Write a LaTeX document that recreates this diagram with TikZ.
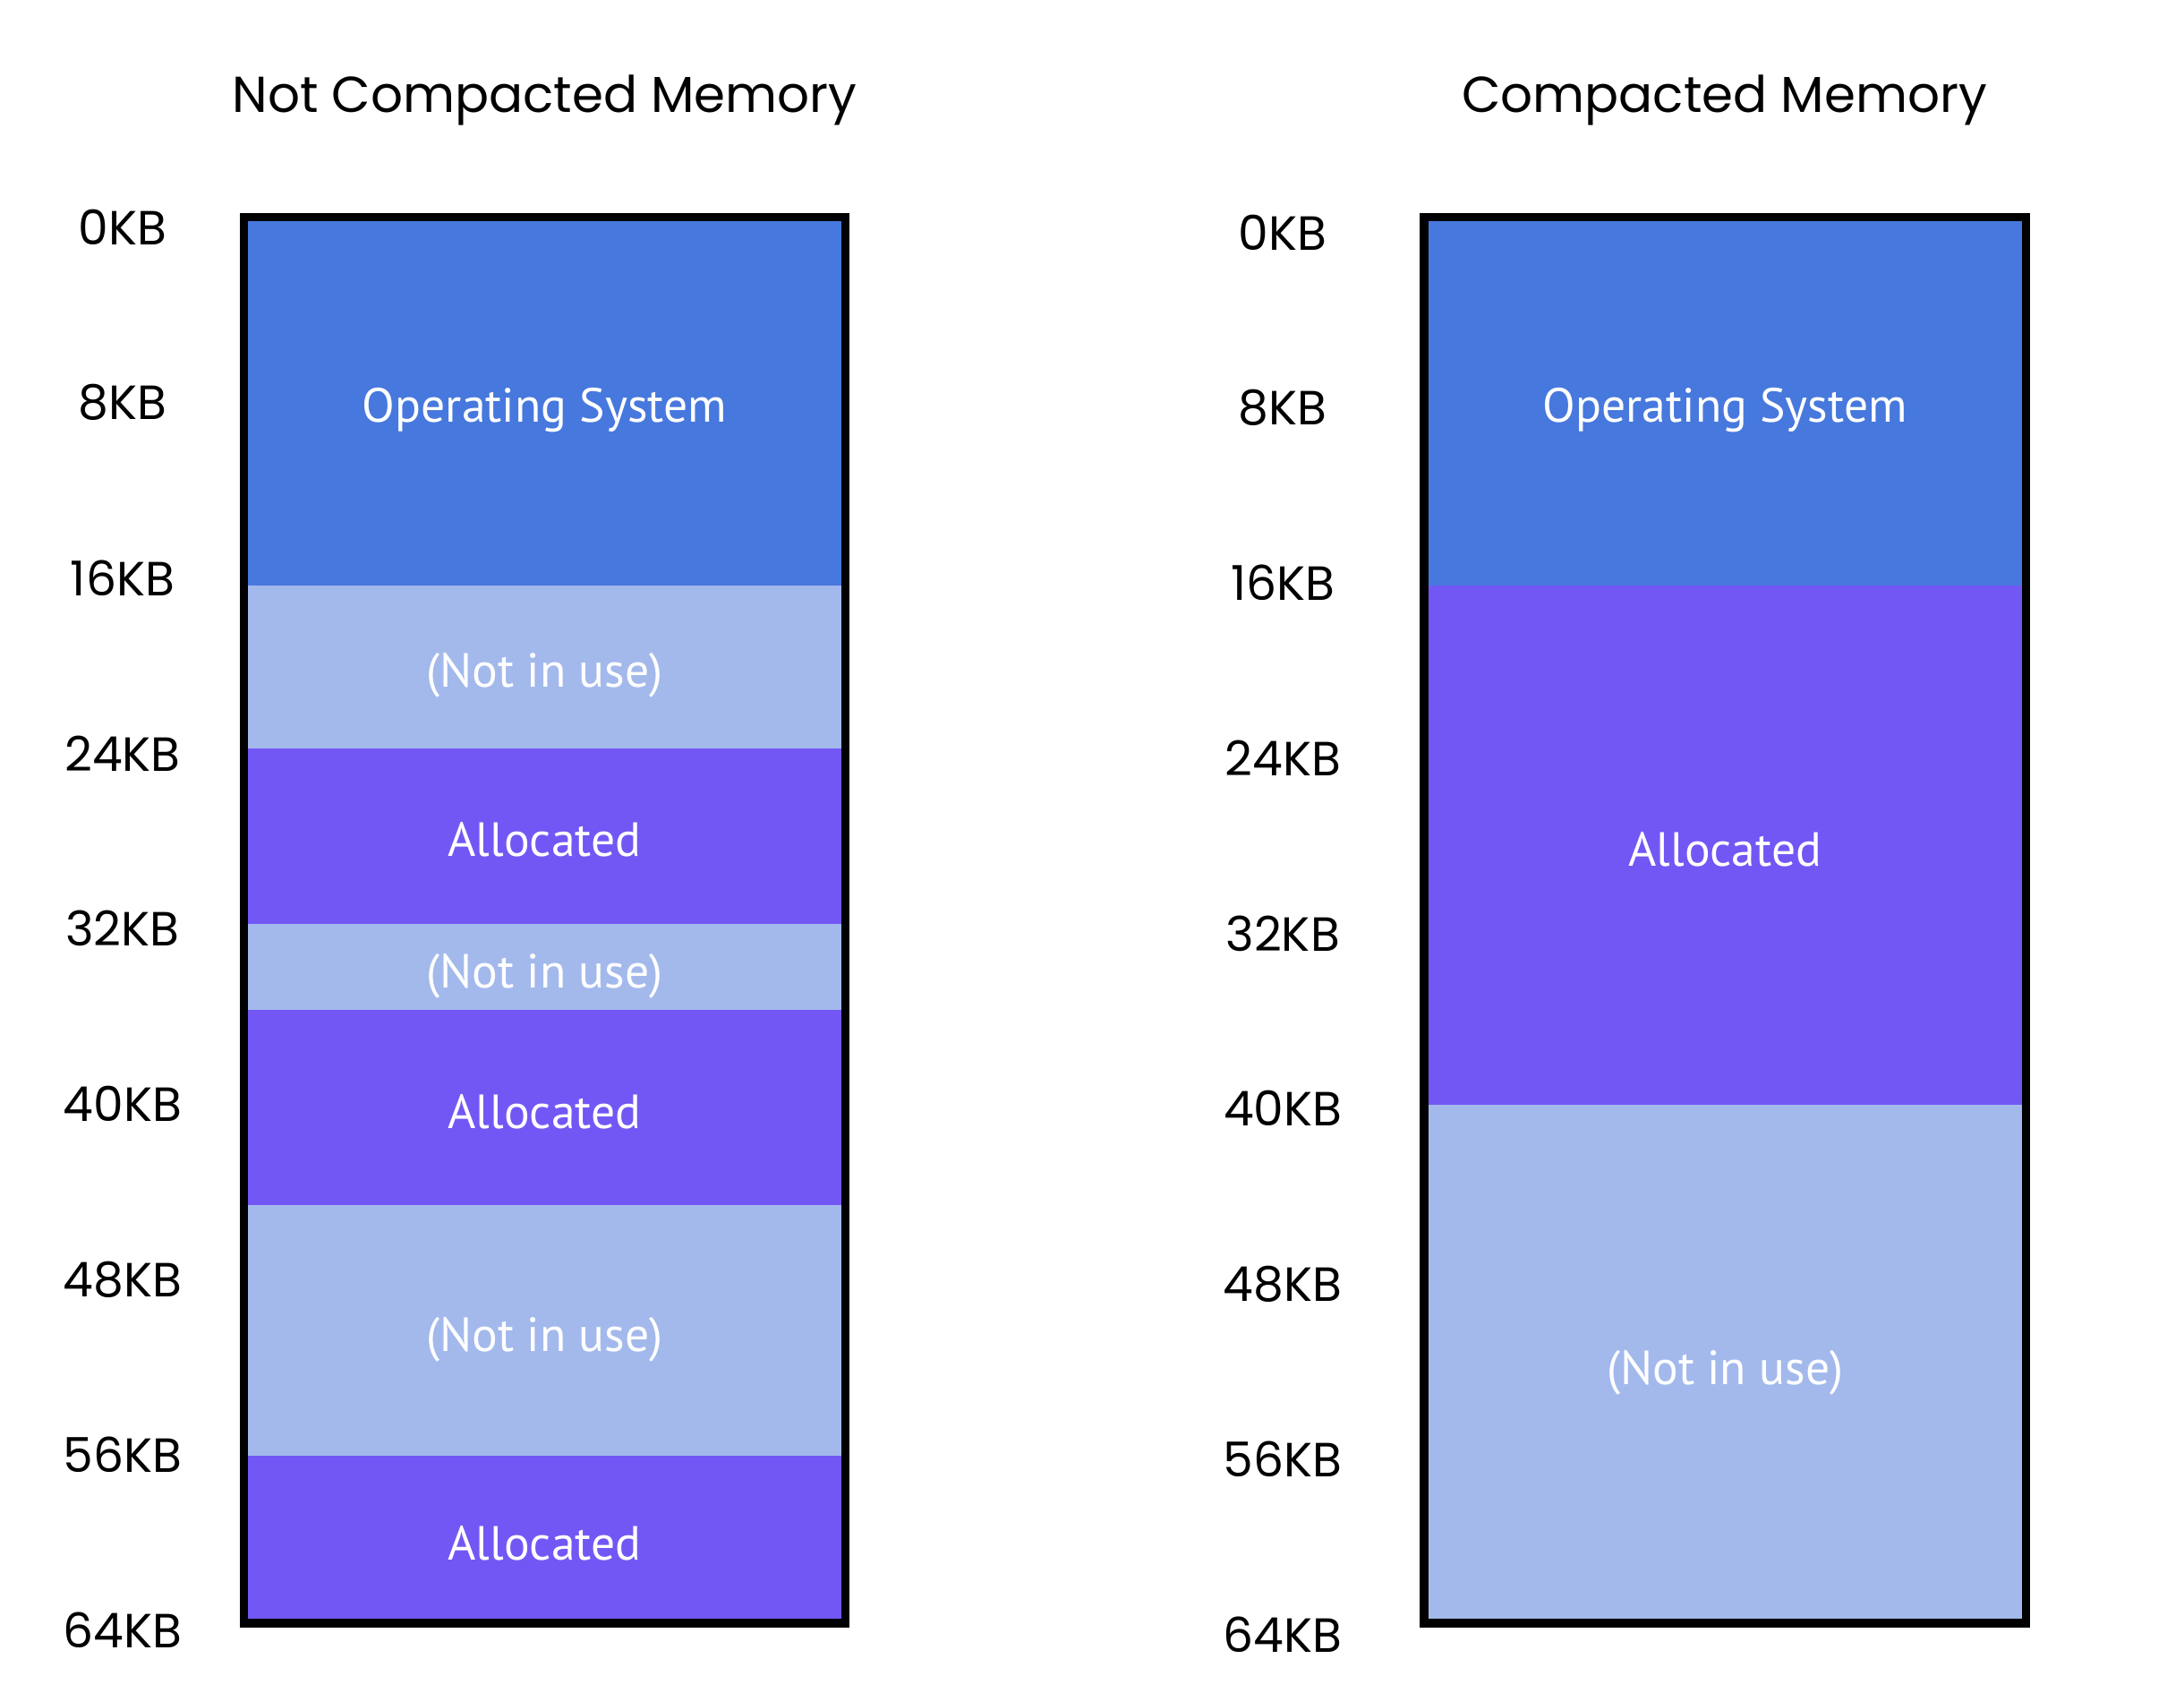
\documentclass[tikz,border=0pt]{standalone}
\usepackage{fontspec}
\setmainfont{Poppins}
\newfontfamily\blockfont{PT Sans}
\usetikzlibrary{positioning}
\definecolor{osblue}{HTML}{4778DD}
\definecolor{freeblue}{HTML}{A3B9EC}
\definecolor{allocpurple}{HTML}{7357F5}

\begin{document}
\begin{tikzpicture}[
      seg/.style={
        rectangle,
        inner sep=0pt,
        outer sep=0pt,
        minimum width=4.32cm,
        text height=1em,
        text depth=0.15em,
        text=white,
        font=\blockfont\fontsize{9.8}{12}\selectfont
      },
      osseg/.style={seg, fill=osblue},
      freeseg/.style={seg, fill=freeblue},
      allocseg/.style={seg, fill=allocpurple},
      memtitle/.style={font=\fontsize{10.3}{13}\selectfont},
      kblabel/.style={font=\fontsize{9.8}{11}\selectfont},
      memframe/.style={draw=black, line width=0.06cm},
      node distance=0pt
    ]
    \useasboundingbox (0,0) rectangle (15.68,-12.15);

    % not compacted
    \node[memtitle] (titleA) at (3.91,-0.72) {Not Compacted Memory};
    \node[osseg, minimum height=2.64cm, anchor=north] (osA) at (3.91,-1.56) {Operating System};
    \node[freeseg, minimum height=1.17cm, below=of osA] (freeA1) {(Not in use)};
    \node[allocseg, minimum height=1.26cm, below=of freeA1] (allocA1) {Allocated};
    \node[freeseg, minimum height=0.62cm, below=of allocA1] (freeA2) {(Not in use)};
    \node[allocseg, minimum height=1.40cm, below=of freeA2] (allocA2) {Allocated};
    \node[freeseg, minimum height=1.80cm, below=of allocA2] (freeA3) {(Not in use)};
    \node[allocseg, minimum height=1.20cm, below=of freeA3] (allocA3) {Allocated};
    \draw[memframe] (osA.north west) rectangle (allocA3.south east);
    \foreach \kb [count=\i from 0] in {0,8,...,64}
      \node[kblabel] (kbA\kb) at (0.88,-1.63-1.259*\i) {\kb KB};

    % compacted
    \node[memtitle] (titleB) at (12.38,-0.72) {Compacted Memory};
    \node[osseg, minimum height=2.64cm, anchor=north] (osB) at (12.385,-1.56) {Operating System};
    \node[allocseg, minimum height=3.73cm, below=of osB] (allocB) {Allocated};
    \node[freeseg, minimum height=3.72cm, below=of allocB] (freeB) {(Not in use)};
    \draw[memframe] (osB.north west) rectangle (freeB.south east);
    \foreach \kb [count=\i from 0] in {0,8,...,64}
      \node[kblabel] (kbB\kb) at (9.21,-1.67-1.2575*\i) {\kb KB};
  \end{tikzpicture}
\end{document}
